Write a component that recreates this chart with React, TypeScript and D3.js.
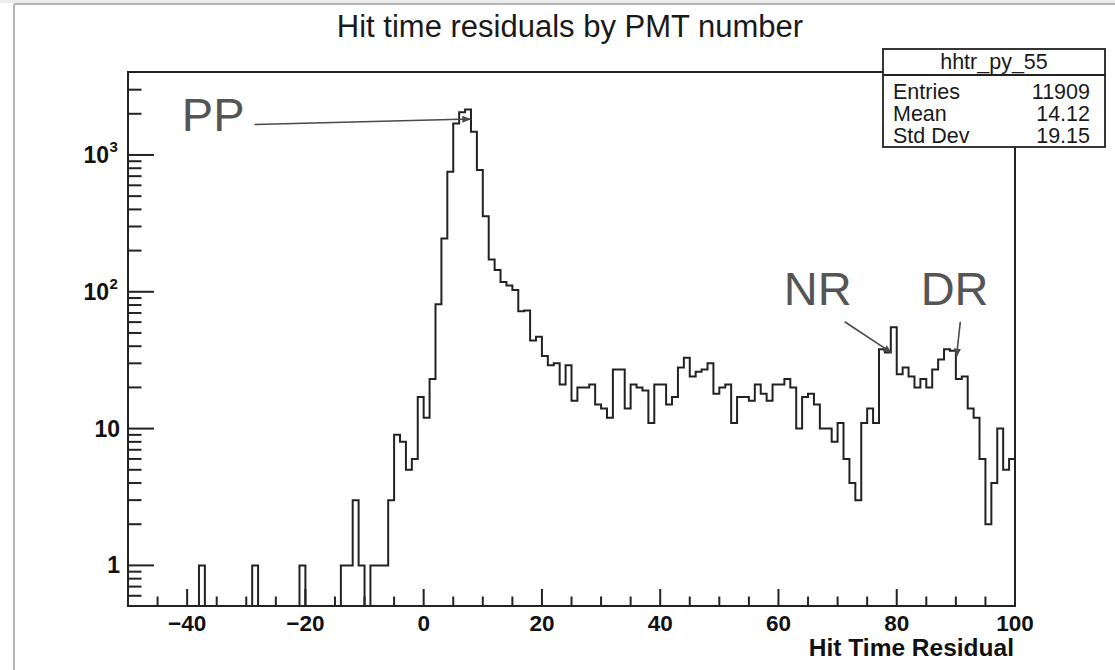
import React from 'react';
import * as d3 from 'd3';

// ---------- data ----------
const binLow = -50;
const binHigh = 100;
const binWidth = 1;

// counts for bins -50 .. -1
const countsNegative = [
  0, 0, 0, 0, 0, 0, 0, 0, 0, 0,
  0, 0, 1, 0, 0, 0, 0, 0, 0, 0,
  0, 1, 0, 0, 0, 0, 0, 0, 0, 1,
  0, 0, 0, 0, 0, 0, 1, 1, 3, 1,
  0, 1, 1, 1, 3, 9, 8, 5, 6, 17,
];
// counts for bins 0 .. 19 (prompt peak)
const countsPeak = [
  12, 23, 81, 245, 754, 1700, 2050, 2150, 1480, 776,
  357, 172, 144, 118, 111, 103, 72, 73, 44, 47,
];
// counts for bins 20 .. 69 (plateau)
const countsPlateau = [
  34, 29, 30, 21, 29, 16, 20, 20, 21, 15,
  14, 12, 27, 27, 14, 21, 20, 19, 11, 21,
  21, 15, 17, 28, 33, 24, 26, 27, 30, 18,
  20, 21, 11, 17, 17, 16, 21, 18, 16, 21,
  21, 23, 20, 10, 17, 18, 15, 10, 10, 8,
];
// counts for bins 70 .. 99 (reflections)
const countsTail = [
  11, 6, 4, 3, 11, 14, 11, 38, 36, 55,
  25, 28, 24, 20, 23, 20, 27, 32, 38, 37,
  23, 24, 14, 12, 6, 2, 4, 10, 5, 6,
];

const xMajorTicks = [-40, -20, 0, 20, 40, 60, 80, 100];
const xMinorStep = 5;
const yMajorTicks = [1, 10, 100, 1000];
const yTickLabels = ['1', '10', '10|2', '10|3'];

const chartTitle = 'Hit time residuals by PMT number';
const xAxisTitle = 'Hit Time Residual';
const statsName = 'hhtr_py_55';
const statsLabels = ['Entries', 'Mean', 'Std Dev'];
const statsValues = ['11909', '14.12', '19.15'];

// annotations in data coordinates: [x, count]
const annoLabels = ['PP', 'NR', 'DR'];
const annoTextPos = [[-40.9, 1500], [60.9, 80], [84.05, 80]];
const annoArrowFrom = [[-28.6, 1670], [71.2, 60.4], [90.75, 60.4]];
const annoArrowTo = [[7.9, 1830], [79.1, 35.9], [90.1, 33.5]];

// ---------- layout ----------
const W = 1115;
const H = 670;
const frameL = 128;
const frameR = 1015;
const frameT = 72;
const frameB = 606;
const yMin = 0.505;
const yMax = 4040;
const ink = '#222';
const font = '"Liberation Sans", Arial, Helvetica, sans-serif';

export default function App() {
  const counts = [...countsNegative, ...countsPeak, ...countsPlateau, ...countsTail];
  const x = d3.scaleLinear().domain([binLow, binHigh]).range([frameL, frameR]);
  const y = d3.scaleLog().domain([yMin, yMax]).range([frameB, frameT]);
  const yOf = (v: number) => (v > 0 ? Math.min(frameB, y(v)) : frameB);

  const pts: [number, number][] = counts.map((v, i) => [x(binLow + i * binWidth), yOf(v)]);
  pts.push([x(binHigh), yOf(counts[counts.length - 1])]);
  const histPath = d3.line().curve(d3.curveStepAfter)(pts) || '';

  const xMinor = d3.range(binLow + xMinorStep, binHigh, xMinorStep).filter((v) => !xMajorTicks.includes(v));
  const yAll = y.ticks().filter((v) => y(v) > frameT + 3 && y(v) < frameB - 1);
  const yMinor = yAll.filter((v) => !yMajorTicks.some((m) => Math.abs(m - v) < 1e-9));
  const fmt = d3.format('d');

  // stats box
  const bx0 = 883, bx1 = 1105, by0 = 49, by1 = 147, bhead = 75;

  return (
    <svg width={W} height={H} style={{ position: 'absolute', left: 0, top: 0, background: '#fff' }} fontFamily={font}>
      <defs>
        <marker id="ah" viewBox="0 0 10 10" refX="9" refY="5" markerWidth="9" markerHeight="9" markerUnits="userSpaceOnUse" orient="auto">
          <path d="M0,1 L10,5 L0,9 z" fill="#4a4a4a" />
        </marker>
      </defs>
      <rect x={0} y={0} width={W} height={H} fill="#fff" />
      {/* canvas border */}
      <rect x={0} y={0} width={W} height={3} fill="#ececec" />
      <line x1={14} y1={4} x2={W} y2={4} stroke="#b4b4b4" strokeWidth={2} />
      <line x1={14} y1={4} x2={14} y2={H} stroke="#b4b4b4" strokeWidth={2} />

      {/* title */}
      <text x={570} y={37} textAnchor="middle" fontSize={31} fill="#1a1a1a">{chartTitle}</text>

      {/* histogram */}
      <path d={histPath} fill="none" stroke={ink} strokeWidth={2} strokeLinejoin="miter" />

      {/* frame */}
      <rect x={frameL} y={frameT} width={frameR - frameL} height={frameB - frameT} fill="none" stroke={ink} strokeWidth={2} />

      {/* x axis ticks */}
      {xMajorTicks.map((v) => (
        <g key={'xM' + v}>
          <line x1={x(v)} x2={x(v)} y1={frameB} y2={frameB - 17} stroke={ink} strokeWidth={2} />
          <text x={x(v)} y={631} textAnchor="middle" fontSize={22.5} fontWeight="bold" fill="#111">{fmt(v)}</text>
        </g>
      ))}
      {xMinor.map((v) => (
        <line key={'xm' + v} x1={x(v)} x2={x(v)} y1={frameB} y2={frameB - 9.5} stroke={ink} strokeWidth={2} />
      ))}
      <text x={frameR - 1} y={656} textAnchor="end" fontSize={24.5} fontWeight="bold" fill="#111">{xAxisTitle}</text>

      {/* y axis ticks */}
      {yMajorTicks.map((v, i) => {
        const [base, sup] = yTickLabels[i].split('|');
        return (
          <g key={'yM' + v}>
            <line x1={frameL} x2={frameL + 26} y1={y(v)} y2={y(v)} stroke={ink} strokeWidth={2} />
            <text x={sup ? 109 : 120} y={y(v) + 8} textAnchor="end" fontSize={23} fontWeight="bold" fill="#111">{base}</text>
            {sup && (
              <text x={109.5} y={y(v) - 3} textAnchor="start" fontSize={15} fontWeight="bold" fill="#111">{sup}</text>
            )}
          </g>
        );
      })}
      {yMinor.map((v) => (
        <line key={'ym' + v} x1={frameL} x2={frameL + 13.5} y1={y(v)} y2={y(v)} stroke={ink} strokeWidth={2} />
      ))}

      {/* stats box */}
      <rect x={bx0} y={by0} width={bx1 - bx0} height={by1 - by0} fill="#fff" stroke={ink} strokeWidth={1.8} />
      <line x1={bx0} x2={bx1} y1={bhead} y2={bhead} stroke={ink} strokeWidth={1.8} />
      <text x={(bx0 + bx1) / 2} y={69} textAnchor="middle" fontSize={21.5} fill="#1a1a1a">{statsName}</text>
      {statsLabels.map((s, i) => (
        <g key={s}>
          <text x={893} y={99 + i * 22} fontSize={21.5} fill="#1a1a1a">{s}</text>
          <text x={1090} y={99 + i * 22} textAnchor="end" fontSize={21.5} fill="#1a1a1a">{statsValues[i]}</text>
        </g>
      ))}

      {/* annotations */}
      {annoLabels.map((s, i) => (
        <g key={s}>
          <text x={x(annoTextPos[i][0])} y={y(annoTextPos[i][1])} fontSize={47} fill="#555">{s}</text>
          <line
            x1={x(annoArrowFrom[i][0])} y1={y(annoArrowFrom[i][1])}
            x2={x(annoArrowTo[i][0])} y2={y(annoArrowTo[i][1])}
            stroke="#4a4a4a" strokeWidth={1.6} markerEnd="url(#ah)"
          />
        </g>
      ))}
    </svg>
  );
}
